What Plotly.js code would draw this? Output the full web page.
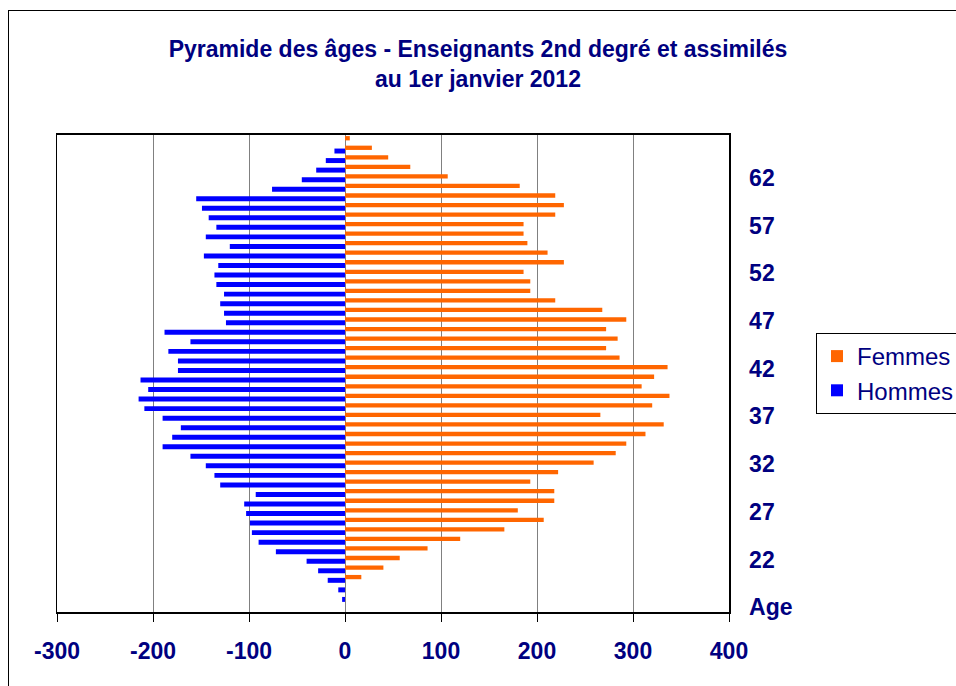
<!DOCTYPE html>
<html>
<head>
<meta charset="utf-8">
<script src="https://cdn.plot.ly/plotly-3.0.1.min.js"></script>
<style>
  html, body { margin: 0; padding: 0; background: #ffffff; overflow: hidden; }
  #frame { position: absolute; left: 8px; top: 10px; width: 1200px; height: 1000px; border: 1px solid #000; }
  #chart { position: absolute; left: 0; top: 0; width: 956px; height: 686px; }
</style>
</head>
<body>
<div id="frame"></div>
<div id="chart"></div>
<script>
// Age categories (first row of the sheet is the header "Age")
const ages = ['Age','18','19','20','21','22','23','24','25','26','27','28','29','30','31','32','33','34','35','36',
  '37','38','39','40','41','42','43','44','45','46','47','48','49','50','51','52','53','54','55','56',
  '57','58','59','60','61','62','63','64','65','66'];

const femmes = [0,0,0,17,40,57,86,120,166,207,180,218,218,193,222,259,282,293,313,332,
  266,320,338,309,322,336,286,272,284,272,293,268,219,193,193,186,228,211,190,186,
  186,219,228,219,182,107,68,45,28,5];

const hommes = [0,-3,-7,-18,-28,-40,-72,-90,-97,-99,-103,-105,-93,-130,-136,-145,-161,-190,-180,-171,
  -190,-209,-215,-205,-213,-174,-174,-184,-161,-188,-124,-126,-130,-126,-134,-136,-132,-147,-120,-145,
  -134,-142,-149,-155,-76,-45,-30,-20,-11,0];

const xTicks = [-300,-200,-100,0,100,200,300,400];
const ageLabels = ages.filter((a, i) => i % 5 === 0);

const navy = '#000080';
const fontFam = 'Arial, "Liberation Sans", sans-serif';

const traces = [
  {
    type: 'bar', orientation: 'h', name: 'Femmes', legendgroup: 'f',
    x: femmes, y: ages, width: 0.45, offset: -0.065,
    marker: { color: '#FF6600', line: { width: 0 } },
    hoverinfo: 'x+y'
  },
  {
    type: 'bar', orientation: 'h', name: 'Hommes', legendgroup: 'h',
    x: hommes, y: ages, width: 0.52, offset: -0.44,
    marker: { color: '#0000FF', line: { width: 0 } },
    hoverinfo: 'x+y'
  }
];

const layout = {
  width: 956, height: 686,
  paper_bgcolor: 'rgba(0,0,0,0)', plot_bgcolor: '#ffffff',
  margin: { l: 57, r: 227, t: 135, b: 74, autoexpand: false },
  barmode: 'overlay',
  title: {
    text: 'Pyramide des âges - Enseignants 2nd degré et assimilés<br>au 1er janvier 2012',
    x: 0.5, xref: 'container', xanchor: 'center',
    y: 1 - 57 / 686, yref: 'container', yanchor: 'middle',
    font: { family: fontFam, size: 23, color: navy, weight: 'bold' }
  },
  xaxis: {
    range: [-300, 400], tickvals: xTicks, ticktext: xTicks.map(String),
    showgrid: true, gridcolor: '#808080', gridwidth: 1,
    zeroline: false,
    showline: true, linecolor: '#000', linewidth: 2, mirror: true,
    ticks: 'outside', ticklen: 8, tickcolor: '#000', tickwidth: 1,
    tickfont: { family: fontFam, size: 23, color: navy, weight: 'bold' },
    ticklabelstandoff: 9,
    fixedrange: true
  },
  yaxis: {
    type: 'category', categoryorder: 'array', categoryarray: ages,
    range: [-0.5, ages.length - 0.5],
    side: 'right', ticks: '', tickvals: ageLabels, ticktext: ageLabels,
    showgrid: false, zeroline: false,
    showline: true, linecolor: '#000', linewidth: 1.5, mirror: true,
    tickfont: { family: fontFam, size: 23, color: navy, weight: 'bold' },
    ticklabelstandoff: 14,
    fixedrange: true
  },
  yaxis2: {
    overlaying: 'y', anchor: 'free', position: 300 / 700, side: 'left',
    range: [-0.5, ages.length - 0.5],
    tick0: -0.5, dtick: 1, ticks: 'outside', ticklen: 8, tickcolor: '#000', tickwidth: 1,
    showticklabels: false, showgrid: false, zeroline: false,
    showline: true, linecolor: '#000', linewidth: 1, layer: 'above traces',
    fixedrange: true
  },
  legend: {
    x: (816 - 57) / 672, xanchor: 'left',
    y: (612 - 333) / 477, yanchor: 'top',
    bordercolor: '#000', borderwidth: 1, bgcolor: '#ffffff',
    font: { family: fontFam, size: 24, color: navy },
    traceorder: 'normal', tracegroupgap: 18
  },
  showlegend: true
};

Plotly.newPlot('chart', traces, layout, { displayModeBar: false, staticPlot: true });
</script>
</body>
</html>
